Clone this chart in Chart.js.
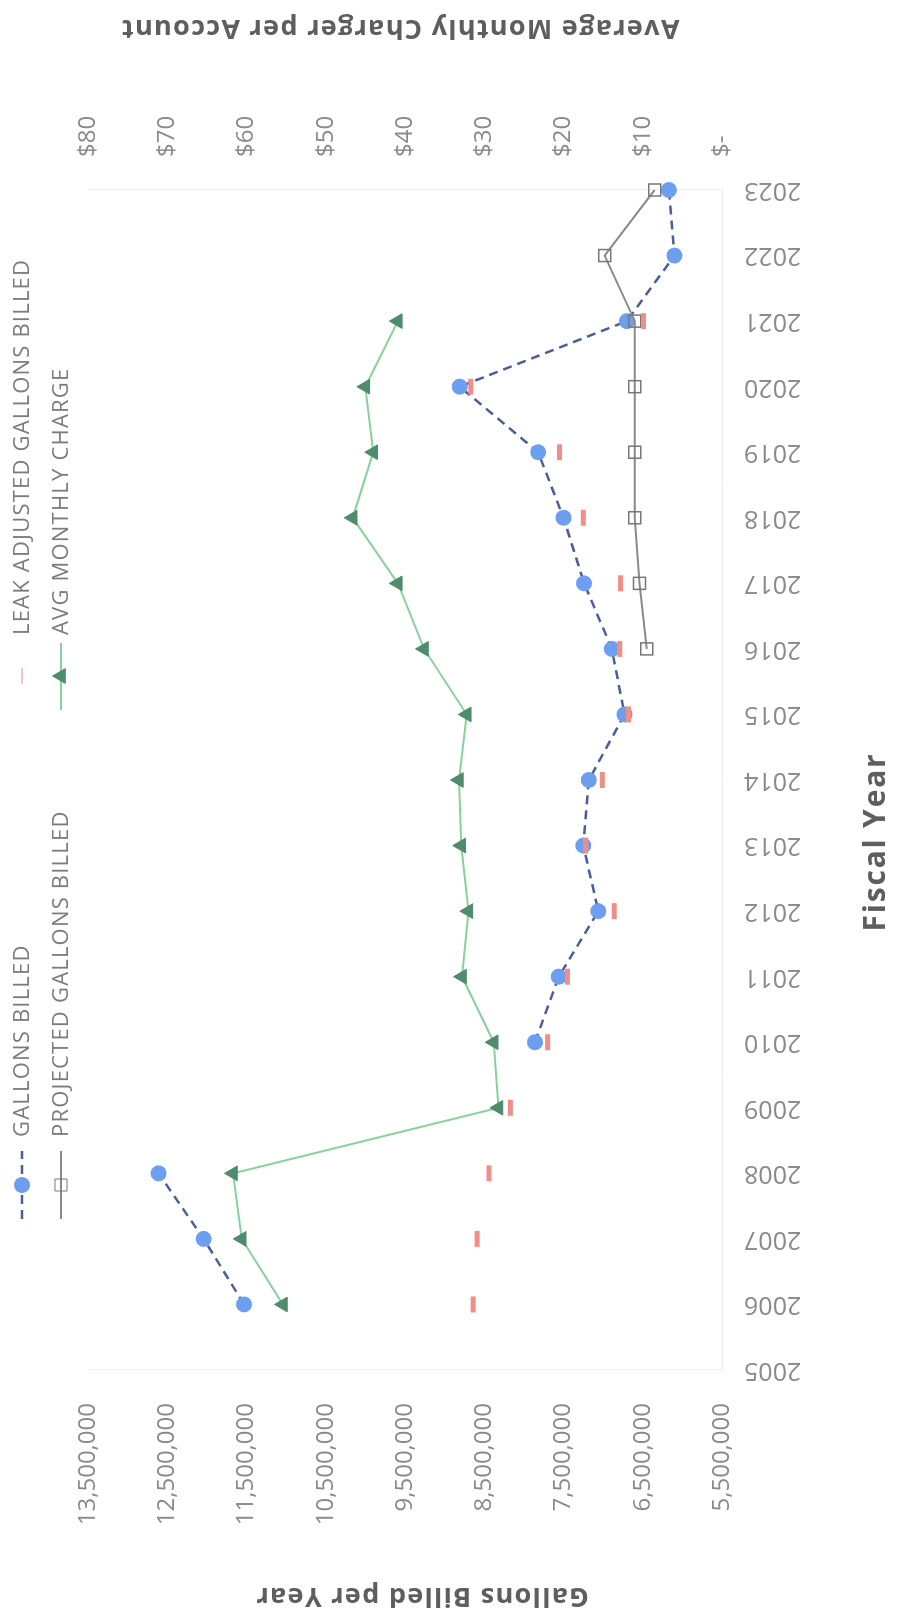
<!DOCTYPE html>
<html>
<head>
<meta charset="utf-8">
<script src="https://cdn.jsdelivr.net/npm/chart.js@4.4.1/dist/chart.umd.min.js"></script>
<style>
  html, body { margin: 0; padding: 0; background: #fff; overflow: hidden; width: 898px; height: 1623px; }
  /* landscape chart turned a quarter turn counter-clockwise to fill the portrait page */
  #wrap { position: absolute; left: 0; top: 0; width: 1623px; height: 898px;
          transform-origin: 0 0; transform: translate(0, 1623px) rotate(-90deg); }
  canvas { display: block; }
</style>
</head>
<body>
<div id="wrap"><canvas id="chart" width="1623" height="898"></canvas></div>
<script>
// Fiscal years on the category axis
const years = ['2005','2006','2007','2008','2009','2010','2011','2012','2013','2014',
               '2015','2016','2017','2018','2019','2020','2021','2022','2023'];

// Gallons billed per year
const gallonsBilled = [null, 11530000, 12040000, 12610000, null, 7860000, 7560000, 7060000,
                       7250000, 7180000, 6730000, 6890000, 7240000, 7500000, 7820000,
                       8810000, 6700000, 6100000, 6170000];

// Projected gallons billed (2016 onward)
const projectedGallons = [null, null, null, null, null, null, null, null, null, null, null,
                          6450000, 6540000, 6600000, 6600000, 6600000, 6600000, 6980000, 6350000];

// Leak adjusted gallons billed
const leakAdjusted = [null, 8640000, 8590000, 8440000, 8170000, 7700000, 7450000, 6860000,
                      7220000, 7010000, 6680000, 6790000, 6780000, 7250000, 7550000,
                      8670000, 6490000, null, null];

// Average monthly charge per account, dollars
const avgMonthlyCharge = [null, 55.4, 60.6, 61.7, 28.2, 28.8, 32.8, 32.0, 32.9, 33.2, 32.2,
                          37.6, 40.9, 46.6, 44.0, 45.0, 40.9, null, null];

// Axis limits
const gallonsMin = 5500000, gallonsMax = 13500000, gallonsStep = 1000000;
const chargeMin = 0, chargeMax = 80, chargeStep = 10;

const FONT = "'Open Sans', 'Liberation Sans', sans-serif";
const TICK_COLOR = '#8a8a8a';
const TITLE_COLOR = '#5e5e5e';

const datasets = [
  {
    label: 'GALLONS BILLED', data: gallonsBilled, yAxisID: 'y', order: 2,
    borderColor: '#4b5d9c', borderWidth: 2.5, borderDash: [9, 6],
    pointStyle: 'circle', pointRadius: 8, pointHoverRadius: 8,
    pointBackgroundColor: '#6d9ef0', pointBorderColor: '#6d9ef0', pointBorderWidth: 0,
    spanGaps: false, tension: 0
  },
  {
    label: 'PROJECTED GALLONS BILLED', data: projectedGallons, yAxisID: 'y', order: 1,
    borderColor: '#8a8a8a', borderWidth: 2,
    pointStyle: 'rect', pointRadius: 8.5, pointHoverRadius: 8.5,
    pointBackgroundColor: 'rgba(255,255,255,0)', pointBorderColor: '#777777', pointBorderWidth: 1.5,
    spanGaps: false, tension: 0
  },
  {
    label: 'LEAK ADJUSTED GALLONS BILLED', data: leakAdjusted, yAxisID: 'y', order: 0,
    showLine: false, borderColor: '#f28e86',
    pointStyle: 'line', pointRadius: 8, pointHoverRadius: 8,
    pointBackgroundColor: '#f28e86', pointBorderColor: '#f28e86', pointBorderWidth: 5
  },
  {
    label: 'AVG MONTHLY CHARGE', data: avgMonthlyCharge, yAxisID: 'y1', order: 3,
    borderColor: '#86d29c', borderWidth: 2,
    pointStyle: 'triangle', pointRadius: 8.5, pointHoverRadius: 8.5,
    pointBackgroundColor: '#4f8b6d', pointBorderColor: '#4f8b6d', pointBorderWidth: 1,
    spanGaps: false, tension: 0
  }
];

// Two-column legend along the top edge
const legendGrid = {
  id: 'legendGrid',
  afterDraw(chart) {
    const ctx = chart.ctx;
    const ds = chart.data.datasets;
    const cells = [
      { i: 0, x0: 404, x1: 472, mx: 438, tx: 486, y: 22 },
      { i: 1, x0: 404, x1: 472, mx: 438, tx: 486, y: 61 },
      { i: 2, x0: 913, x1: 980, mx: 947, tx: 988, y: 22 },
      { i: 3, x0: 913, x1: 980, mx: 947, tx: 988, y: 61 }
    ];
    ctx.save();
    cells.forEach(c => {
      const d = ds[c.i];
      if (d.showLine !== false) {
        ctx.save();
        ctx.strokeStyle = d.borderColor;
        ctx.lineWidth = d.borderWidth;
        ctx.setLineDash(d.borderDash || []);
        ctx.beginPath();
        ctx.moveTo(c.x0, c.y);
        ctx.lineTo(c.x1, c.y);
        ctx.stroke();
        ctx.restore();
      }
      ctx.save();
      ctx.fillStyle = d.pointBackgroundColor;
      ctx.strokeStyle = d.pointBorderColor;
      Chart.helpers.drawPoint(ctx, {
        pointStyle: d.pointStyle, radius: d.pointRadius, rotation: 0,
        borderWidth: d.pointBorderWidth
      }, c.mx, c.y);
      ctx.restore();
      ctx.save();
      ctx.fillStyle = '#7c7c7c';
      ctx.font = '22px ' + FONT;
      ctx.letterSpacing = '1.2px';
      ctx.textBaseline = 'middle';
      ctx.textAlign = 'left';
      ctx.fillText(d.label, c.tx, c.y + 1);
      ctx.restore();
    });
    ctx.restore();
  }
};

// Axis titles
const axisTitles = {
  id: 'axisTitles',
  afterDraw(chart) {
    const ctx = chart.ctx;
    ctx.save();
    ctx.fillStyle = TITLE_COLOR;
    ctx.textAlign = 'center';
    ctx.textBaseline = 'middle';
    ctx.font = 'bold 30px ' + FONT;
    ctx.letterSpacing = '1.8px';
    ctx.fillText('Fiscal Year', 781, 876);
    ctx.font = 'bold 27px ' + FONT;
    ctx.letterSpacing = '1.3px';
    [[27, 422, 'Gallons Billed per Year'], [1595, 400, 'Average Monthly Charger per Account']]
      .forEach(([x, y, t]) => {
        ctx.save();
        ctx.translate(x, y);
        ctx.rotate(-Math.PI / 2);
        ctx.fillText(t, 0, 0);
        ctx.restore();
      });
    ctx.restore();
  }
};

new Chart(document.getElementById('chart'), {
  type: 'line',
  data: { labels: years, datasets },
  plugins: [legendGrid, axisTitles],
  options: {
    responsive: false,
    animation: false,
    devicePixelRatio: 1,
    layout: { padding: { top: 88, left: 0, right: 0, bottom: 0 } },
    plugins: { legend: { display: false }, tooltip: { enabled: false }, title: { display: false } },
    scales: {
      x: {
        type: 'category', offset: false,
        grid: { display: false, drawTicks: false },
        border: { display: true, color: 'rgba(0,0,0,0.07)', width: 1 },
        ticks: { autoSkip: false, minRotation: 90, maxRotation: 90, padding: 22,
                 color: TICK_COLOR, font: { family: FONT, size: 25 } },
        afterFit(s) { s.height = 176; }
      },
      y: {
        position: 'left', min: gallonsMin, max: gallonsMax,
        grid: { display: false, drawTicks: false },
        border: { display: true, color: 'rgba(0,0,0,0.06)', width: 1 },
        ticks: { stepSize: gallonsStep, padding: 33, color: TICK_COLOR,
                 font: { family: FONT, size: 24 },
                 callback: v => Number(v).toLocaleString('en-US') },
        afterFit(s) { s.width = 253; }
      },
      y1: {
        position: 'right', min: chargeMin, max: chargeMax,
        grid: { display: false, drawTicks: false },
        border: { display: true, color: 'rgba(0,0,0,0.06)', width: 1 },
        ticks: { stepSize: chargeStep, padding: 33, color: TICK_COLOR,
                 font: { family: FONT, size: 24 },
                 callback: v => v === 0 ? '$-' : '$' + v },
        afterFit(s) { s.width = 190; }
      }
    }
  }
});
</script>
</body>
</html>
